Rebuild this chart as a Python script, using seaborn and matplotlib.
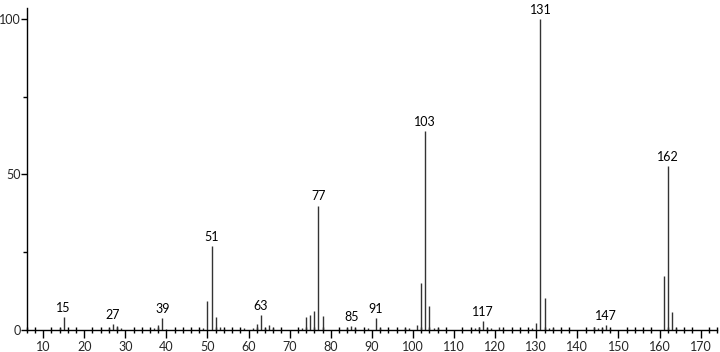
import numpy as np
import pandas as pd
import matplotlib
matplotlib.use("Agg")
import matplotlib.pyplot as plt
from matplotlib.ticker import MultipleLocator
import seaborn as sns

# m/z values and relative intensities
mz = [14, 15, 26, 27, 28, 29, 37, 38, 39, 40, 49, 50, 51, 52, 53, 54,
      59, 61, 62, 63, 64, 65, 66, 73, 74, 75, 76, 77, 78, 84, 85, 86, 89,
      91, 92, 98, 99, 101, 102, 103, 104, 105, 106, 115, 116, 117, 118,
      119, 121, 122, 129, 130, 131, 132, 133, 134, 144, 145, 146, 147,
      148, 161, 162, 163, 164]
intensity = [0.5, 4.3, 0.8, 1.9, 1.2, 0.8, 0.6, 1.5, 3.9, 0.4, 0.6, 9.4, 27.1, 4.1, 1.0, 0.4,
             0.5, 0.6, 1.9, 4.9, 0.8, 1.7, 0.5, 0.6, 4.3, 4.9, 6.2, 40.0, 4.4, 0.6, 1.4, 0.5, 0.6,
             3.9, 0.6, 0.5, 0.5, 1.5, 15.1, 63.9, 7.8, 0.8, 0.5, 0.8, 1.0, 2.9, 0.7,
             0.5, 1.0, 0.4, 0.5, 2.1, 100.0, 10.3, 0.8, 0.5, 1.0, 0.6, 0.5, 1.6,
             0.4, 17.5, 52.6, 5.7, 0.5]
labeled = [15, 27, 39, 51, 63, 77, 85, 91, 103, 117, 131, 147, 162]

df = pd.DataFrame({"mz": mz, "intensity": intensity})

sns.set_theme(style="ticks")
plt.rcParams["font.family"] = ["Lato", "DejaVu Sans"]

fig = plt.figure(figsize=(7.2, 3.52), dpi=100)
ax = fig.add_axes([0.037, 0.0625, 0.959, 0.915])

ax.vlines(df["mz"], 0, df["intensity"], color="#333333", linewidth=1.0)

for m in labeled:
    v = df.loc[df["mz"] == m, "intensity"].iloc[0]
    ax.text(m, v + 1.0, str(m), ha="center", va="bottom", fontsize=9, color="black")

ax.set_xlim(6, 174)
ax.set_ylim(0, 103.5)
ax.xaxis.set_major_locator(MultipleLocator(10))
ax.xaxis.set_minor_locator(MultipleLocator(2))
ax.yaxis.set_major_locator(MultipleLocator(50))
ax.yaxis.set_minor_locator(MultipleLocator(25))
ax.tick_params(axis="x", which="major", direction="out", length=6, width=1, labelsize=9, pad=2, color="black")
ax.tick_params(axis="x", which="minor", direction="inout", length=5, width=1, color="black")
ax.tick_params(axis="y", which="major", direction="out", length=4, width=1, labelsize=9, pad=0.5, color="black")
ax.tick_params(axis="y", which="minor", direction="out", length=3, width=1, color="black")
for s in ["top", "right"]:
    ax.spines[s].set_visible(False)
for s in ["left", "bottom"]:
    ax.spines[s].set_color("black")
    ax.spines[s].set_linewidth(1)
ax.set_xlabel("")
ax.set_ylabel("")

fig.savefig("out.png", dpi=100)
